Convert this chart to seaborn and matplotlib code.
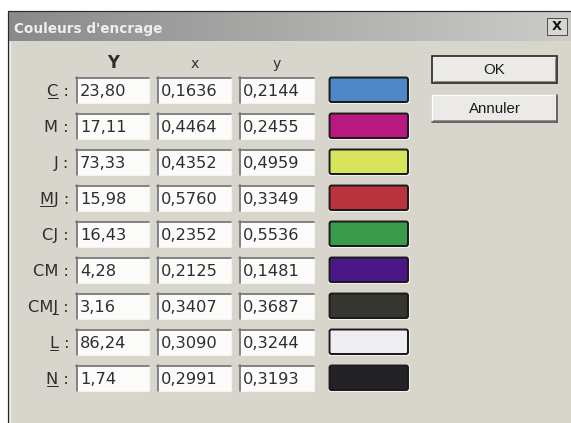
import numpy as np
import matplotlib
matplotlib.use("Agg")
import matplotlib.pyplot as plt
import seaborn as sns
from matplotlib.patches import Rectangle, FancyBboxPatch
from matplotlib.font_manager import FontProperties

# ---- data ----
labels = ["C", "M", "J", "MJ", "CJ", "CM", "CMJ", "L", "N"]
underline_idx = [0, None, None, 0, None, None, 2, 0, 0]
Y_vals = [23.80, 17.11, 73.33, 15.98, 16.43, 4.28, 3.16, 86.24, 1.74]
x_vals = [0.1636, 0.4464, 0.4352, 0.5760, 0.2352, 0.2125, 0.3407, 0.3090, 0.2991]
y_vals = [0.2144, 0.2455, 0.4959, 0.3349, 0.5536, 0.1481, 0.3687, 0.3244, 0.3193]
swatch_hex = ["#4f87c8", "#b8187f", "#d7e35b", "#b8343e", "#3c9a4c",
              "#4b1786", "#34362f", "#eeeef2", "#232327"]
headers = ["Y", "x", "y"]
title = "Couleurs d'encrage"
buttons = ["OK", "Annuler"]

sns.set_style("white")
palette = sns.color_palette(swatch_hex)

PT = 0.72  # points per pixel at dpi 100
W, H = 571, 423
fig = plt.figure(figsize=(W / 100, H / 100), dpi=100)
fig.patch.set_facecolor("white")
ax = fig.add_axes([0, 0, 1, 1])
ax.axis("off")

BG = "#d8d5cd"
TXT = "#2e2e2e"
ax.add_patch(Rectangle((8, 11), W - 8, H - 11, fc=BG, ec="none", zorder=0))

# title bar gradient
g = np.linspace(0, 1, 300)[None, :, None]
c0 = np.array([0.54, 0.54, 0.54])
c1 = np.array([0.80, 0.80, 0.79])
rgb = c0 + (c1 - c0) * g
rgb = np.repeat(rgb, 2, axis=0)
ax.imshow(rgb, extent=(8.5, W, 41, 11.5), aspect="auto", zorder=1, interpolation="bilinear")

# outer borders
ax.plot([8, 8], [11, H], color="#2a2a2a", lw=1.2 * PT, zorder=5)
ax.plot([8, W], [11, 11], color="#2a2a2a", lw=1.2 * PT, zorder=5)
ax.plot([9.5, 9.5], [41, H], color="#f2f1ec", lw=1 * PT, zorder=5)

ax.text(14, 33, title, fontsize=13.6 * PT, weight="bold", color="#eeeeee",
        family="DejaVu Sans", ha="left", va="baseline", zorder=6)

# close button
ax.add_patch(Rectangle((547, 18), 20, 17, fc="#d9d6cf", ec="#505050", lw=1 * PT, zorder=6))
ax.text(557, 27, "X", fontsize=13 * PT, weight="bold", color="#111111",
        family="DejaVu Sans", ha="center", va="center", zorder=7)

# buttons
for k, (lab, top) in enumerate(zip(buttons, [56, 95])):
    ax.add_patch(Rectangle((432, top), 125, 27, fc="#ebeae6", ec="none", zorder=3))
    L, T, R, B = 432, top, 557, top + 27
    if k == 0:
        ax.add_patch(Rectangle((432, top), 125, 27, fc="none", ec="#1e1e1e", lw=1.6 * PT, zorder=4))
        ax.plot([L + 2, R - 2], [B - 2, B - 2], color="#8a8a8a", lw=1 * PT, zorder=4)
        ax.plot([R - 2, R - 2], [T + 2, B - 2], color="#8a8a8a", lw=1 * PT, zorder=4)
    else:
        ax.plot([L, R], [T, T], color="#ffffff", lw=1.2 * PT, zorder=4)
        ax.plot([L, L], [T, B], color="#ffffff", lw=1.2 * PT, zorder=4)
        ax.plot([L, R], [B, B], color="#404040", lw=1.5 * PT, zorder=4)
        ax.plot([R, R], [T, B], color="#404040", lw=1.5 * PT, zorder=4)
        ax.plot([L + 1, R - 1], [B - 1.5, B - 1.5], color="#8e8e8e", lw=1 * PT, zorder=4)
    ax.text(494.5, top + 14, lab, fontsize=15 * PT, color="#1a1a1a",
            family="Liberation Sans", ha="center", va="center", zorder=5)

# column layout
col_left = [76, 157, 239]
col_w = [73, 74, 75]
head_x = [113, 195, 277]
for hx, htxt, wgt, fs in zip(head_x, headers, ["bold", "normal", "normal"], [16.5, 14, 14]):
    ax.text(hx, 68, htxt, fontsize=fs * PT, weight=wgt, color=TXT,
            family="DejaVu Sans", ha="center", va="baseline")

fs_val = 16.3
fp = FontProperties(family="DejaVu Sans", size=fs_val * PT)
renderer = fig.canvas.get_renderer()


def tw(s):
    if not s:
        return 0.0
    w, h, d = renderer.get_text_width_height_descent(s, fp, ismath=False)
    return w


def fmt(v, n):
    return f"{v:.{n}f}".replace(".", ",")


for i, lab in enumerate(labels):
    yc = 90 + 36 * i
    top, bot = yc - 13, yc + 13
    # label
    s = f"{lab} :"
    ax.text(69, yc + 6, s, fontproperties=fp, color=TXT, ha="right", va="baseline")
    ui = underline_idx[i]
    if ui is not None:
        x0 = 69 - tw(s) + tw(s[:ui])
        x1 = x0 + tw(s[ui])
        ax.plot([x0 + 0.5, x1 - 0.5], [yc + 8.5, yc + 8.5], color=TXT, lw=1 * PT)
    # text boxes
    vals = [fmt(Y_vals[i], 2), fmt(x_vals[i], 4), fmt(y_vals[i], 4)]
    for L0, w0, v in zip(col_left, col_w, vals):
        R0 = L0 + w0
        ax.add_patch(Rectangle((L0, top), w0, 26, fc="#fcfcfb", ec="none", zorder=2))
        ax.plot([L0, R0], [bot, bot], color="#f4f3ef", lw=1.2 * PT, zorder=3)
        ax.plot([R0, R0], [top, bot], color="#f4f3ef", lw=1.2 * PT, zorder=3)
        ax.plot([L0, R0], [top + 0.8, top + 0.8], color="#777777", lw=1.8 * PT, zorder=3)
        ax.plot([L0 + 0.8, L0 + 0.8], [top, bot], color="#777777", lw=1.8 * PT, zorder=3)
        ax.text(L0 + 4, yc + 6, v, fontproperties=fp, color=TXT, ha="left",
                va="baseline", zorder=4)
    # swatch
    ax.add_patch(FancyBboxPatch((328, top - 0.5), 82, 27.5,
                                boxstyle="round,pad=0,rounding_size=2.5",
                                fc="#f3f2ee", ec="none", zorder=2))
    ax.add_patch(FancyBboxPatch((329.5, top + 0.5), 78.5, 24.5,
                                boxstyle="round,pad=0,rounding_size=2",
                                fc=palette[i], ec="#1b1b1b", lw=2 * PT, zorder=3))

ax.set_xlim(0, W)
ax.set_ylim(H, 0)
fig.savefig("out.png", dpi=100)
